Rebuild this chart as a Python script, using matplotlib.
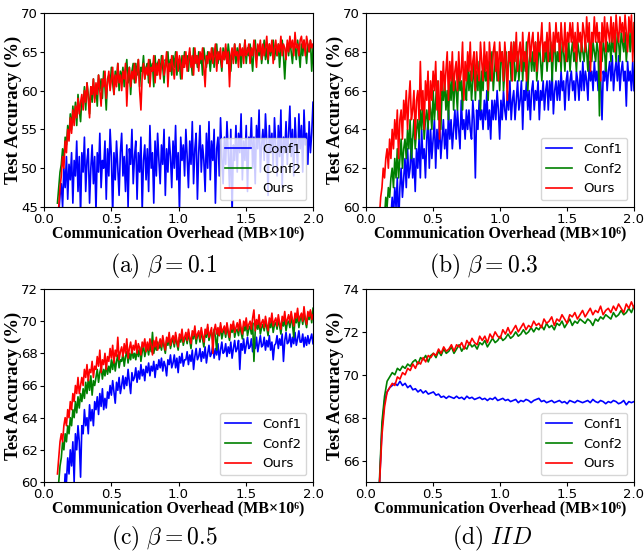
import numpy as np
import matplotlib
matplotlib.use("Agg")
import matplotlib.pyplot as plt

# ---------------- data ----------------
x_start, x_end = 0.1, 2.0

a_conf1 = [
42.0, 44.0, 46.5, 48.0, 45.0, 50.0, 47.5, 51.5, 46.0, 50.5,
48.5, 52.0, 45.5, 51.0, 49.0, 53.5, 47.0, 51.5, 44.0, 52.0,
49.5, 54.0, 47.0, 51.0, 52.5, 45.5, 50.0, 53.0, 48.0, 51.5,
44.5, 52.0, 49.5, 54.5, 47.5, 51.0, 50.0, 53.5, 46.0, 52.5,
49.0, 55.0, 51.5, 44.0, 52.0, 48.5, 53.5, 50.0, 46.5, 52.0,
54.5, 49.0, 51.5, 47.0, 53.0, 45.0, 52.5, 50.5, 55.0, 48.0,
51.5, 53.5, 46.0, 52.0, 49.5, 54.0, 44.5, 51.0, 53.0, 48.5,
52.5, 47.0, 55.5, 50.0, 52.0, 45.5, 53.5, 49.0, 54.5, 51.0,
48.0, 53.0, 50.5, 55.0, 46.5, 52.5, 49.5, 54.0, 51.5, 47.5,
53.5, 50.0, 55.5, 48.5, 52.0, 44.5, 54.0, 51.0, 53.0, 49.0,
55.0, 51.5, 47.5, 53.5, 50.5, 56.0, 48.0, 52.5, 54.5, 46.0,
52.0, 55.5, 49.5, 53.0, 51.0, 47.0, 54.5, 50.0, 56.0, 48.5,
53.5, 51.0, 55.0, 45.5, 52.5, 54.0, 49.0, 56.5, 51.5, 48.0,
54.0, 50.5, 56.0, 52.0, 47.5, 55.0, 44.0, 53.0, 51.0, 55.5,
49.5, 54.5, 52.0, 57.0, 48.5, 53.5, 51.0, 55.5, 47.0, 54.0,
52.5, 56.5, 50.0, 54.0, 48.0, 55.5, 52.5, 57.5, 49.5, 53.0,
55.0, 51.0, 57.0, 53.5, 46.5, 55.5, 52.0, 54.5, 50.0, 56.5,
53.0, 49.0, 55.5, 51.5, 57.5, 47.5, 54.0, 52.0, 56.0, 50.5,
54.5, 58.0, 51.5, 55.0, 49.0, 56.5, 53.0, 50.0, 57.0, 52.5,
55.5, 49.5, 57.5, 53.0, 54.5, 50.5, 56.0, 52.0, 54.5, 58.5]
a_conf2 = [
45.5, 47.5, 49.5, 50.5, 52.5, 51.0, 54.0, 53.0, 55.5, 54.0,
57.0, 55.0, 58.0, 56.0, 58.5, 55.5, 59.5, 57.5, 56.0, 59.0,
58.0, 60.5, 57.5, 61.0, 59.5, 57.0, 60.5, 58.5, 61.5, 59.0,
60.5, 58.0, 62.0, 60.0, 61.5, 59.0, 62.5, 60.5, 57.5, 61.5,
62.0, 60.5, 63.0, 61.0, 59.5, 62.5, 61.0, 63.5, 60.0, 62.5,
61.5, 63.0, 60.5, 62.5, 64.0, 61.0, 63.0, 59.5, 62.5, 63.5,
61.0, 63.5, 62.0, 64.0, 60.5, 63.0, 62.5, 64.5, 61.5, 63.0,
63.5, 61.0, 64.0, 62.5, 63.5, 60.5, 64.5, 62.0, 63.5, 64.0,
62.0, 64.5, 63.0, 61.0, 64.0, 63.5, 65.0, 62.5, 64.0, 62.0,
64.5, 63.0, 65.0, 62.0, 64.0, 63.5, 61.5, 64.5, 63.0, 65.0,
63.5, 64.5, 62.5, 65.0, 64.0, 62.0, 65.5, 63.5, 64.5, 63.0,
65.0, 63.5, 64.5, 62.0, 65.5, 64.0, 63.0, 65.0, 64.5, 62.5,
64.5, 65.5, 63.0, 64.5, 66.0, 63.5, 65.0, 64.0, 62.5, 65.5,
64.0, 65.5, 63.5, 66.0, 64.5, 62.5, 65.0, 64.0, 66.0, 63.5,
65.5, 64.0, 66.0, 63.0, 65.0, 64.5, 66.5, 63.5, 65.5, 64.5,
66.0, 64.5, 62.5, 65.5, 66.5, 64.0, 65.5, 64.5, 66.0, 63.5,
65.0, 66.5, 64.0, 65.5, 63.5, 66.0, 64.5, 65.5, 66.5, 64.0,
65.5, 64.5, 66.0, 63.0, 65.5, 66.5, 64.5, 61.5, 65.0, 66.0,
64.5, 66.5, 65.0, 63.5, 66.0, 65.5, 64.0, 66.5, 65.0, 63.0,
66.0, 64.5, 66.5, 65.5, 63.5, 66.0, 65.0, 66.5, 62.5, 65.5]
a_ours = [
43.0, 45.0, 47.5, 49.0, 51.5, 50.0, 53.5, 52.0, 55.0, 53.5,
56.5, 54.5, 57.5, 55.5, 58.0, 56.5, 59.0, 57.0, 58.5, 59.5,
57.5, 60.0, 58.5, 61.0, 59.0, 56.5, 60.5, 59.5, 61.5, 58.5,
61.0, 59.5, 62.0, 60.0, 58.0, 61.5, 60.5, 62.5, 59.0, 61.0,
62.5, 60.0, 61.5, 63.0, 59.5, 62.0, 60.5, 63.5, 61.0, 62.0,
60.0, 62.5, 61.5, 63.5, 58.0, 62.0, 63.0, 60.5, 62.5, 61.5,
63.5, 61.0, 62.5, 64.0, 60.0, 57.5, 62.0, 63.5, 61.5, 63.0,
62.0, 64.0, 60.5, 63.0, 62.5, 64.5, 61.0, 63.5, 62.0, 64.0,
61.5, 63.5, 64.5, 62.0, 63.0, 65.0, 60.5, 63.5, 62.5, 64.5,
63.0, 61.5, 64.0, 65.0, 62.5, 64.5, 63.5, 61.5, 64.5, 63.0,
65.0, 62.5, 64.0, 65.5, 63.0, 64.5, 62.0, 65.5, 63.5, 64.5,
62.5, 65.0, 64.0, 65.5, 63.0, 60.5, 64.5, 63.5, 65.0, 64.0,
65.5, 63.5, 64.5, 66.0, 62.5, 65.0, 64.0, 65.5, 63.0, 65.0,
64.0, 66.0, 63.5, 65.0, 60.5, 64.5, 65.5, 63.5, 66.0, 64.5,
65.0, 63.0, 66.0, 64.5, 65.5, 63.5, 66.5, 64.5, 65.0, 66.0,
63.5, 65.5, 64.5, 66.5, 65.0, 63.0, 66.0, 65.0, 66.5, 64.0,
66.0, 64.5, 65.5, 67.0, 64.0, 66.0, 65.0, 66.5, 63.5, 65.5,
66.5, 64.5, 66.0, 65.0, 67.0, 64.5, 66.0, 65.5, 64.0, 66.5,
65.0, 67.0, 65.5, 66.5, 64.5, 67.5, 65.5, 66.0, 64.5, 66.5,
67.0, 65.5, 66.5, 64.5, 67.0, 66.0, 65.0, 66.5, 65.5, 66.0]

b_conf1 = [
54.5, 55.5, 56.5, 57.0, 57.5, 58.5, 58.0, 59.0, 58.5, 59.5,
60.5, 59.5, 61.0, 60.0, 61.5, 59.0, 61.0, 62.0, 60.5, 61.5,
62.5, 61.0, 63.0, 61.5, 62.0, 63.5, 61.5, 62.5, 60.8, 63.0,
62.0, 63.5, 61.5, 64.0, 62.5, 63.0, 61.5, 63.5, 64.5, 62.0,
64.0, 62.5, 63.5, 64.5, 62.0, 64.0, 63.0, 64.5, 62.5, 63.5,
64.5, 63.0, 64.0, 62.5, 65.0, 63.5, 64.5, 63.0, 64.0, 65.0,
63.5, 65.0, 64.0, 63.0, 65.5, 64.0, 64.5, 63.5, 65.0, 64.0,
65.0, 64.0, 63.5, 65.5, 64.5, 61.5, 65.0, 64.0, 65.5, 64.5,
65.0, 64.0, 65.5, 64.5, 66.0, 64.0, 65.0, 63.5, 65.5, 64.5,
65.5, 64.5, 66.0, 65.0, 63.5, 65.5, 64.5, 66.0, 65.0, 64.5,
66.0, 65.0, 66.5, 64.5, 65.5, 66.0, 64.5, 65.5, 66.5, 65.0,
65.5, 66.5, 64.0, 66.0, 65.5, 66.5, 65.0, 66.0, 64.5, 66.0,
66.5, 65.0, 66.0, 65.5, 66.5, 64.5, 66.0, 65.5, 66.5, 65.0,
66.0, 66.5, 65.0, 66.5, 65.5, 67.0, 64.8, 66.0, 66.5, 65.5,
66.5, 65.5, 67.0, 66.0, 66.5, 65.0, 66.5, 67.0, 65.5, 66.5,
67.0, 66.0, 66.5, 65.5, 67.0, 66.5, 65.5, 67.0, 66.0, 67.5,
66.0, 67.0, 66.5, 65.5, 67.5, 66.5, 67.0, 66.0, 67.5, 66.5,
67.0, 66.0, 67.5, 66.5, 64.5, 67.0, 66.5, 67.5, 66.0, 67.0,
67.5, 66.5, 67.8, 66.0, 67.0, 67.5, 66.5, 67.8, 66.0, 67.0,
67.5, 66.5, 67.0, 65.2, 67.5, 66.5, 67.0, 66.0, 67.5, 66.0]
b_conf2 = [
56.5, 57.5, 58.0, 59.0, 59.5, 60.5, 60.0, 61.0, 60.5, 61.5,
62.0, 61.0, 62.5, 61.5, 63.0, 61.5, 62.5, 63.5, 62.0, 63.0,
63.5, 62.5, 64.0, 63.0, 64.5, 62.5, 63.5, 64.5, 63.0, 64.0,
64.5, 63.5, 65.0, 64.0, 65.5, 63.5, 64.5, 65.0, 64.0, 65.5,
65.0, 64.0, 66.0, 64.5, 65.5, 66.5, 64.5, 65.5, 64.0, 66.0,
65.5, 66.5, 65.0, 66.0, 64.5, 66.5, 65.5, 67.0, 65.0, 66.5,
66.0, 65.0, 67.0, 66.0, 66.5, 65.0, 67.0, 66.0, 65.5, 67.5,
66.0, 67.0, 65.5, 66.5, 67.5, 65.5, 67.0, 66.0, 67.5, 65.0,
67.0, 66.0, 67.5, 66.5, 67.0, 65.5, 67.5, 66.5, 68.0, 66.0,
67.0, 68.0, 66.5, 67.5, 66.0, 67.5, 68.0, 66.0, 67.0, 68.0,
66.5, 67.5, 68.0, 66.5, 67.5, 68.5, 66.5, 67.0, 68.0, 66.5,
67.5, 68.0, 66.5, 68.0, 67.0, 68.5, 66.0, 67.5, 68.0, 67.0,
68.0, 67.0, 68.5, 66.5, 67.5, 68.5, 67.5, 66.5, 68.0, 67.5,
68.5, 67.0, 68.0, 67.5, 68.5, 66.5, 68.0, 68.5, 67.0, 68.0,
67.5, 68.5, 67.0, 68.5, 68.0, 67.0, 68.5, 67.5, 68.5, 67.0,
68.0, 68.5, 67.5, 68.0, 67.0, 68.5, 68.0, 67.5, 68.5, 68.0,
67.5, 68.5, 68.0, 67.0, 68.5, 68.0, 67.5, 68.5, 68.0, 67.5,
68.5, 68.0, 64.7, 68.5, 67.5, 68.5, 68.0, 67.0, 68.5, 68.0,
68.5, 67.5, 69.0, 68.0, 68.5, 67.5, 69.0, 68.5, 67.5, 69.0,
68.5, 68.0, 69.0, 67.5, 68.5, 69.0, 68.0, 69.5, 68.0, 68.5]
b_ours = [
59.5, 60.5, 61.0, 62.0, 61.5, 62.5, 63.0, 62.0, 63.5, 62.5,
64.0, 63.0, 64.5, 63.5, 65.0, 62.5, 64.5, 65.0, 63.5, 65.5,
64.5, 66.0, 64.0, 65.5, 66.5, 64.5, 65.0, 66.0, 63.5, 65.5,
66.0, 64.5, 67.5, 65.0, 66.0, 64.0, 66.5, 65.5, 67.0, 64.5,
66.5, 65.5, 67.0, 66.0, 67.5, 65.0, 66.5, 63.5, 67.0, 66.0,
67.5, 66.0, 67.0, 68.0, 65.5, 67.5, 66.5, 68.0, 66.0, 67.0,
67.5, 66.0, 68.0, 66.5, 67.0, 68.5, 65.5, 67.5, 66.5, 68.0,
67.0, 68.5, 66.5, 67.5, 68.0, 66.0, 68.0, 67.0, 66.5, 68.5,
67.5, 66.5, 68.5, 67.0, 68.0, 66.0, 68.5, 67.5, 66.5, 68.0,
68.5, 67.0, 68.0, 66.5, 68.5, 67.5, 68.0, 66.5, 68.5, 67.5,
65.5, 68.0, 67.5, 68.5, 66.5, 68.5, 67.5, 69.0, 67.0, 68.0,
68.5, 67.0, 69.0, 67.5, 68.0, 66.5, 68.5, 69.0, 67.5, 68.5,
69.0, 67.5, 68.5, 67.0, 69.0, 68.0, 68.5, 69.5, 67.5, 68.5,
68.0, 69.0, 67.5, 69.5, 68.5, 67.5, 69.0, 68.0, 69.5, 68.5,
69.0, 67.5, 69.5, 68.5, 68.0, 69.5, 67.5, 69.0, 68.5, 69.5,
68.5, 69.5, 68.0, 69.0, 67.5, 69.5, 68.5, 69.0, 68.0, 69.5,
69.0, 68.0, 69.8, 68.5, 69.5, 67.0, 69.0, 68.5, 69.8, 68.5,
69.5, 68.5, 69.0, 66.5, 69.5, 68.5, 69.8, 68.0, 69.5, 69.0,
68.5, 69.8, 68.5, 69.5, 68.0, 69.9, 69.0, 68.5, 69.8, 69.0,
69.5, 68.5, 69.9, 69.0, 68.0, 69.8, 69.0, 69.9, 67.5, 69.5]

c_conf1 = [
56.5, 57.0, 58.0, 58.5, 59.5, 59.0, 60.5, 60.0, 61.5, 60.5,
62.0, 61.0, 62.5, 60.0, 63.0, 62.0, 63.5, 62.5, 60.3, 63.5,
63.0, 64.5, 63.5, 64.0, 63.0, 64.8, 63.8, 64.5, 63.5, 65.0,
64.5, 65.3, 64.2, 65.5, 64.7, 65.8, 64.5, 65.2, 64.6, 65.6,
65.2, 66.0, 65.4, 66.3, 65.6, 64.9, 66.2, 65.7, 66.5, 65.5,
66.0, 66.6, 65.8, 66.5, 66.0, 67.0, 66.2, 65.5, 66.8, 66.3,
66.5, 67.1, 66.2, 66.9, 66.4, 67.3, 66.6, 67.0, 66.3, 67.2,
66.8, 67.4, 66.6, 67.2, 66.9, 67.5, 66.5, 67.3, 67.0, 67.6,
67.1, 67.7, 66.9, 67.5, 67.2, 66.6, 67.6, 67.3, 67.9, 67.1,
67.4, 67.9, 67.1, 67.7, 66.8, 67.8, 67.4, 68.0, 67.2, 67.6,
67.6, 68.1, 67.3, 67.9, 67.5, 68.2, 67.0, 67.8, 68.3, 67.6,
67.8, 68.3, 67.5, 68.1, 67.7, 68.4, 67.4, 68.0, 68.5, 67.8,
68.0, 68.5, 67.7, 68.3, 67.9, 68.6, 67.6, 68.2, 68.7, 68.0,
68.1, 68.6, 67.8, 68.4, 68.0, 68.7, 67.7, 68.3, 68.8, 68.1,
68.3, 68.8, 67.0, 68.6, 68.2, 68.9, 68.0, 68.5, 69.0, 68.3,
68.4, 68.9, 68.1, 68.7, 68.3, 69.0, 68.1, 68.6, 69.1, 68.4,
68.5, 69.0, 68.2, 68.8, 68.4, 69.1, 68.2, 68.7, 67.6, 68.5,
68.6, 69.1, 68.3, 68.9, 68.5, 69.2, 67.5, 68.8, 69.3, 68.6,
68.7, 69.2, 68.4, 69.0, 68.6, 69.3, 68.5, 68.9, 69.4, 68.7,
68.7, 69.2, 68.4, 69.0, 68.5, 69.1, 68.6, 68.9, 69.2, 68.6]
c_conf2 = [
59.5, 60.0, 61.0, 61.5, 62.5, 62.0, 63.0, 62.5, 63.5, 63.0,
64.0, 63.5, 64.5, 64.0, 65.0, 64.3, 65.3, 64.6, 65.5, 65.0,
65.8, 65.2, 66.2, 65.5, 66.4, 65.7, 66.6, 65.4, 66.3, 66.0,
66.5, 67.0, 66.2, 66.8, 67.2, 66.4, 67.0, 66.6, 67.3, 66.7,
67.2, 66.8, 67.6, 67.0, 67.8, 66.9, 67.5, 67.9, 67.1, 67.6,
67.5, 68.0, 67.2, 67.8, 68.1, 67.4, 68.0, 67.6, 68.3, 67.7,
68.0, 67.6, 68.3, 67.8, 68.4, 67.5, 68.1, 68.5, 67.8, 68.2,
68.4, 67.9, 68.6, 68.1, 69.3, 68.0, 68.5, 68.2, 68.7, 68.3,
68.6, 68.2, 68.9, 68.4, 68.0, 68.8, 68.5, 69.0, 68.3, 68.7,
68.9, 68.4, 69.1, 68.6, 68.2, 69.0, 68.7, 69.2, 68.5, 68.9,
69.0, 68.6, 69.3, 68.8, 68.3, 69.2, 68.9, 69.5, 68.6, 69.1,
69.2, 68.7, 69.4, 68.9, 68.4, 69.3, 69.0, 69.6, 68.8, 69.2,
69.3, 68.8, 69.5, 69.0, 68.2, 69.4, 69.1, 69.7, 68.9, 69.3,
69.5, 69.0, 69.7, 69.2, 68.8, 69.6, 69.3, 69.8, 69.0, 69.4,
69.5, 69.1, 69.8, 69.3, 68.9, 69.7, 69.4, 69.9, 69.1, 69.5,
69.7, 69.2, 69.9, 67.5, 69.4, 69.8, 69.5, 70.0, 69.2, 69.6,
69.8, 69.4, 70.0, 69.6, 69.1, 69.9, 69.6, 70.1, 69.3, 69.8,
69.9, 69.5, 70.1, 69.7, 69.2, 70.0, 69.7, 70.2, 69.4, 69.9,
70.0, 69.6, 70.3, 69.8, 69.0, 70.2, 69.9, 70.4, 69.6, 70.1,
70.3, 69.8, 70.5, 70.0, 69.6, 70.4, 70.1, 70.6, 69.9, 70.8]
c_ours = [
60.5, 61.5, 62.5, 63.0, 62.5, 63.5, 64.0, 63.5, 64.5, 64.0,
65.0, 64.5, 65.5, 65.0, 66.0, 65.5, 66.5, 65.5, 66.0, 66.5,
66.0, 67.0, 66.5, 67.3, 66.3, 67.0, 66.8, 67.5, 66.5, 67.2,
67.0, 67.8, 67.2, 68.2, 66.8, 67.6, 67.3, 68.0, 67.0, 67.8,
67.5, 68.3, 67.7, 68.5, 67.4, 68.2, 67.8, 69.0, 67.6, 68.1,
68.4, 67.8, 68.6, 68.0, 68.9, 67.7, 68.3, 68.7, 68.0, 68.5,
68.2, 68.8, 68.0, 68.6, 68.3, 67.9, 68.7, 68.4, 68.9, 68.1,
68.7, 68.2, 68.9, 68.5, 67.9, 68.8, 68.4, 69.0, 68.2, 68.6,
68.9, 68.4, 69.1, 68.6, 68.2, 69.0, 68.7, 69.3, 68.5, 68.9,
69.1, 68.6, 69.3, 68.8, 68.4, 69.2, 68.9, 69.5, 68.7, 69.0,
69.3, 68.8, 69.5, 69.0, 68.6, 69.4, 69.1, 69.7, 68.9, 69.2,
69.4, 68.9, 69.6, 69.1, 68.7, 69.5, 69.2, 69.8, 69.0, 69.3,
69.6, 68.0, 69.4, 69.8, 69.2, 69.6, 69.1, 69.9, 69.3, 69.5,
69.7, 69.2, 69.9, 69.4, 69.0, 69.8, 69.5, 70.0, 69.3, 69.6,
69.9, 69.4, 70.1, 69.6, 69.2, 70.0, 69.7, 70.2, 69.5, 69.8,
70.0, 69.5, 70.2, 70.7, 69.4, 70.1, 69.8, 70.4, 69.6, 69.9,
70.1, 69.6, 70.3, 69.8, 69.4, 70.2, 69.9, 70.5, 69.7, 70.0,
70.2, 69.7, 70.4, 69.9, 69.5, 70.3, 70.0, 70.6, 69.8, 70.1,
70.4, 69.9, 70.6, 70.1, 69.7, 70.5, 70.2, 70.8, 70.0, 70.3,
70.5, 70.0, 70.9, 70.2, 69.8, 70.6, 70.3, 70.7, 70.1, 70.4]

d_conf1 = [
64.8, 67.5, 68.8, 69.2, 69.4, 69.5, 69.6, 69.5, 69.7, 69.5,
69.6, 69.4, 69.5, 69.3, 69.35, 69.2, 69.3, 69.15, 69.25, 69.1,
69.15, 69.2, 69.05, 69.1, 68.95, 69.0, 68.9, 69.0, 68.95, 68.9,
69.0, 68.9, 68.95, 68.85, 69.0, 68.9, 68.95, 68.85, 68.9, 68.95,
68.85, 68.9, 68.8, 68.9, 68.85, 68.95, 68.8, 68.85, 68.9, 68.8,
68.85, 68.75, 68.8, 68.85, 68.7, 68.8, 68.75, 68.85, 68.8, 68.7,
68.8, 68.85, 68.9, 68.75, 68.8, 68.7, 68.75, 68.8, 68.7, 68.75,
68.8, 68.7, 68.75, 68.65, 68.8, 68.75, 68.7, 68.8, 68.75, 68.7,
68.75, 68.8, 68.7, 68.85, 68.75, 68.7, 68.8, 68.75, 68.65, 68.75,
68.7, 68.8, 68.75, 68.65, 68.7, 68.8, 68.6, 68.75, 68.7, 68.75]
d_conf2 = [
65.0, 67.8, 69.0, 69.7, 69.9, 70.1, 70.0, 70.3, 70.2, 70.4,
70.3, 70.5, 70.4, 70.6, 70.7, 70.5, 70.8, 70.7, 70.9, 70.6,
70.9, 71.0, 70.8, 71.1, 70.9, 71.2, 71.0, 71.1, 71.3, 71.0,
71.2, 71.4, 71.1, 71.3, 71.2, 71.5, 71.3, 71.4, 71.2, 71.5,
71.4, 71.6, 71.3, 71.5, 71.7, 71.5, 71.6, 71.8, 71.6, 71.7,
71.9, 71.7, 71.8, 72.0, 71.8, 71.9, 72.1, 71.9, 72.0, 72.2,
72.0, 72.2, 72.1, 72.3, 72.1, 72.4, 72.2, 72.3, 72.1, 72.4,
72.3, 72.5, 72.2, 72.4, 72.6, 72.3, 72.5, 72.4, 72.6, 72.5,
72.4, 72.6, 72.5, 72.3, 72.6, 72.5, 72.7, 72.6, 72.8, 72.7,
72.6, 72.9, 72.7, 72.8, 73.0, 72.8, 72.9, 73.1, 72.9, 73.2]
d_ours = [
64.8, 67.2, 68.5, 69.2, 69.4, 69.6, 69.5, 69.9, 69.8, 70.1,
70.0, 70.3, 70.2, 70.5, 70.3, 70.6, 70.5, 70.8, 70.6, 70.9,
70.8, 71.0, 70.9, 71.2, 71.0, 71.3, 71.1, 71.2, 71.4, 71.1,
71.4, 71.3, 71.5, 71.2, 71.6, 71.4, 71.7, 71.5, 71.4, 71.8,
71.6, 71.8, 71.5, 71.9, 71.7, 72.0, 71.8, 71.7, 72.1, 71.9,
72.2, 71.9, 72.1, 72.3, 72.0, 72.2, 72.4, 72.1, 72.3, 72.2,
72.5, 72.3, 72.4, 72.2, 72.6, 72.4, 72.5, 72.7, 72.3, 72.6,
72.5, 72.8, 72.6, 72.4, 72.8, 72.7, 72.9, 72.6, 72.8, 73.0,
72.7, 72.9, 73.1, 72.8, 73.0, 72.9, 73.2, 72.8, 73.0, 73.1,
72.9, 73.2, 73.0, 73.3, 73.1, 72.9, 73.3, 73.1, 73.4, 73.1]

series_names = ["Conf1", "Conf2", "Ours"]
series_colors = ["blue", "green", "red"]
captions = [r"$\mathrm{(a)}\ \beta = 0.1$", r"$\mathrm{(b)}\ \beta = 0.3$",
            r"$\mathrm{(c)}\ \beta = 0.5$", r"$\mathrm{(d)}\ IID$"]
ylims = [(45, 70), (60, 70), (60, 72), (65, 74)]
yticks = [[45, 50, 55, 60, 65, 70], [60, 62, 64, 66, 68, 70],
          [60, 62, 64, 66, 68, 70, 72], [66, 68, 70, 72, 74]]
xticks = [0.0, 0.5, 1.0, 1.5, 2.0]
panels = [(a_conf1, a_conf2, a_ours), (b_conf1, b_conf2, b_ours),
          (c_conf1, c_conf2, c_ours), (d_conf1, d_conf2, d_ours)]

# ---------------- plot ----------------
plt.rcParams["mathtext.fontset"] = "cm"
fig = plt.figure(figsize=(6.44, 5.52), dpi=100)

W, H = 644, 552
boxes = [(44, 13, 313, 207), (366, 13, 634, 207),
         (44, 289, 313, 482), (366, 289, 634, 482)]
cap_pos = [(164, 266), (484, 266), (164, 538), (492, 538)]
serif = ["Liberation Serif", "DejaVu Serif"]

for k, (l, t, r, b) in enumerate(boxes):
    ax = fig.add_axes([l / W, 1 - b / H, (r - l) / W, (b - t) / H])
    for vals, name, col in zip(panels[k], series_names, series_colors):
        xs = np.linspace(x_start, x_end, len(vals))
        ax.plot(xs, vals, color=col, lw=1.2, label=name)
    ax.set_xlim(0, 2.0)
    ax.set_ylim(*ylims[k])
    ax.set_xticks(xticks)
    ax.set_yticks(yticks[k])
    ax.tick_params(labelsize=9.5, length=3, pad=1.5)
    ax.set_xlabel("Communication Overhead (MB×10⁶)", family=serif, weight="bold", size=11.5)
    ax.set_ylabel("Test Accuracy (%)", family=serif, weight="bold", size=13.5)
    ax.xaxis.set_label_coords(0.5, -18.5 / (b - t))
    ax.yaxis.set_label_coords(-0.082, 0.5)
    ax.legend(loc="lower right", fontsize=9.5)
    cx, cy = cap_pos[k]
    fig.text(cx / W, 1 - cy / H, captions[k], ha="center", va="center", fontsize=17)

fig.savefig("out.png", dpi=100)
